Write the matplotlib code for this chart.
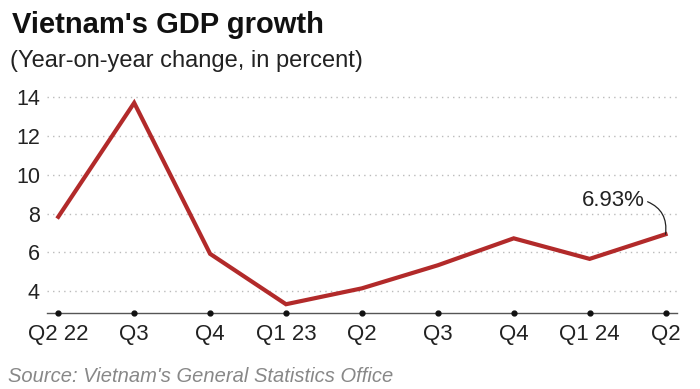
import matplotlib.pyplot as plt

plt.rcParams['font.family'] = ['Liberation Sans', 'DejaVu Sans']

quarters = ['Q2 22', 'Q3', 'Q4', 'Q1 23', 'Q2', 'Q3', 'Q4', 'Q1 24', 'Q2']
growth = [7.83, 13.71, 5.92, 3.32, 4.14, 5.33, 6.72, 5.66, 6.93]
yticks = [4, 6, 8, 10, 12, 14]

fig = plt.figure(figsize=(7, 3.89), dpi=100)
ax = fig.add_axes([0.067, 0.195, 0.90, 0.565])

x = list(range(len(quarters)))
ymin, ymax = 2.86, 14.2

for t in yticks:
    ax.axhline(t, color='#bbbbbb', lw=1, ls=(0, (1, 3)), zorder=1)

ax.plot(x, growth, color='#b22a2a', lw=3, solid_joinstyle='miter', zorder=3)
ax.plot(x, [ymin] * len(x), 'o', color='#111111', ms=3.5, clip_on=False, zorder=4)

# label for the latest quarter with a curved leader line
ax.annotate('6.93%', xy=(x[-1], growth[-1]), xytext=(x[-1] - 0.27, 8.66),
            ha='right', va='center', fontsize=16, color='#222222',
            arrowprops=dict(arrowstyle='-', color='#222222', lw=0.9,
                            connectionstyle='arc3,rad=-0.4',
                            relpos=(1.0, 0.5), patchA=None,
                            shrinkA=2, shrinkB=0))

ax.set_xlim(-0.15, len(x) - 1 + 0.15)
ax.set_ylim(ymin, ymax)
ax.set_xticks(x)
ax.set_xticklabels(quarters)
ax.set_yticks(yticks)
ax.tick_params(axis='both', length=0, colors='#222222')
ax.tick_params(axis='x', pad=8, labelsize=16)
ax.tick_params(axis='y', pad=5, labelsize=15.5)

for s in ['top', 'right', 'left']:
    ax.spines[s].set_visible(False)
ax.spines['bottom'].set_color('#555555')
ax.spines['bottom'].set_linewidth(1)

fig.text(0.017, 0.915, "Vietnam's GDP growth", fontsize=21, fontweight='bold',
         color='#111111', va='baseline')
fig.text(0.014, 0.828, '(Year-on-year change, in percent)', fontsize=17,
         color='#222222', va='baseline')
fig.text(0.011, 0.018, "Source: Vietnam's General Statistics Office",
         fontsize=14.5, style='italic', color='#888888', va='baseline')

fig.savefig('out.png', dpi=100)
